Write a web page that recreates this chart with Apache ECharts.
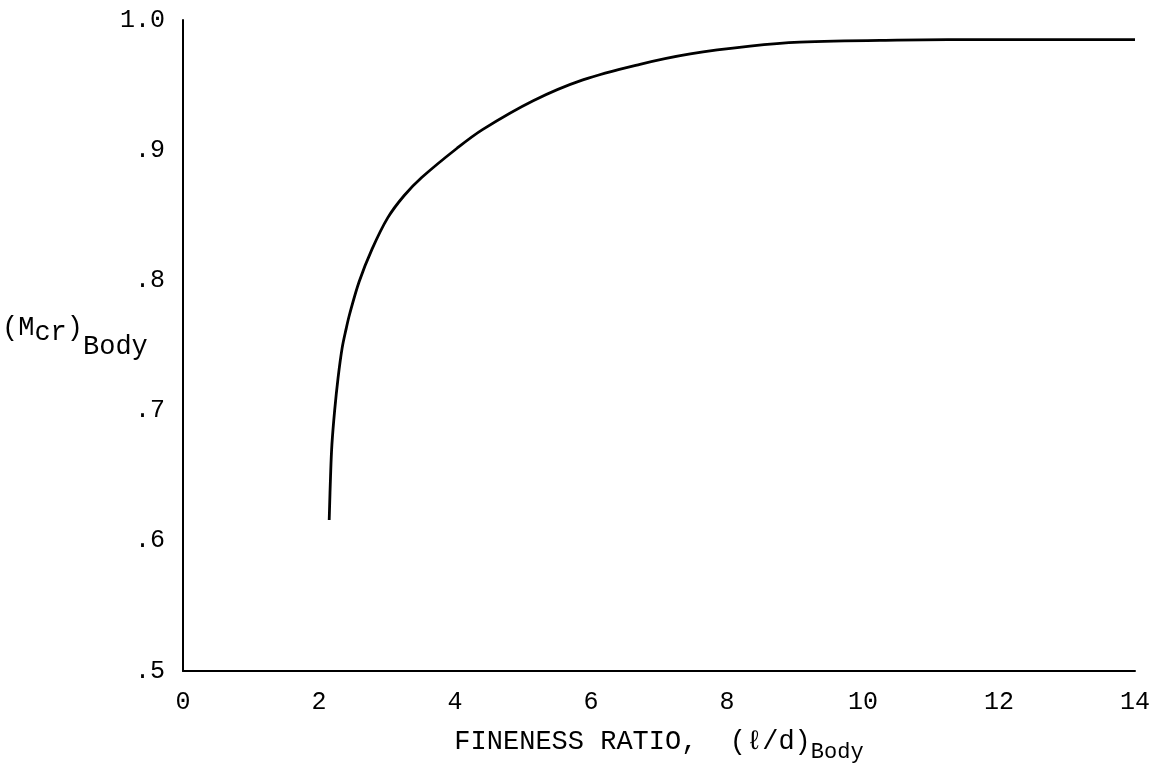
<!DOCTYPE html>
<html>
<head>
  <meta charset="utf-8">
  <title>Critical Mach number vs fineness ratio</title>
  <script src="https://cdn.jsdelivr.net/npm/echarts@6/dist/echarts.min.js"></script>
  <style>
    html, body { margin: 0; padding: 0; background: #fff; }
    #main { width: 1158px; height: 768px; }
  </style>
</head>
<body>
<div id="main"></div>
<script type="text/javascript">
  // data
  var finenessRatio = [2.15, 2.17, 2.19, 2.23, 2.28, 2.34, 2.40, 2.45, 2.59, 2.78, 3.01, 3.25, 3.51, 4.03, 4.41, 5.15, 5.88, 6.72, 7.46, 8.34, 9.07, 10.5, 12.0, 14.0];
  var machCritical = [0.616, 0.65, 0.674, 0.70, 0.725, 0.748, 0.763, 0.774, 0.799, 0.824, 0.848, 0.865, 0.879, 0.9015, 0.916, 0.938, 0.954, 0.966, 0.974, 0.980, 0.983, 0.9845, 0.985, 0.985];
  var yTickLabels = {'0.5': '.5', '0.6': '.6', '0.7': '.7', '0.8': '.8', '0.9': '.9', '1': '1.0'};

  var font = '"Liberation Mono", "DejaVu Sans Mono", monospace';
  var points = [];
  for (var i = 0; i < finenessRatio.length; i++) {
    points.push([finenessRatio[i], machCritical[i]]);
  }

  var myChart = echarts.init(document.getElementById('main'));
  var option = {
    backgroundColor: '#fff',
    animation: false,
    grid: { left: 183, right: 23, top: 20, bottom: 88 },
    xAxis: {
      type: 'value',
      min: 0, max: 14, interval: 2,
      axisLine: { lineStyle: { color: '#000', width: 2 } },
      axisTick: { show: false },
      splitLine: { show: false },
      axisLabel: { color: '#000', fontFamily: font, fontSize: 25, margin: 19 },
      name: '{t|FINENESS RATIO,  (ℓ/d)}{s|Body}',
      nameLocation: 'middle',
      nameGap: 57,
      nameTextStyle: {
        rich: {
          t: { fontFamily: font, fontSize: 27, color: '#000', lineHeight: 27, verticalAlign: 'top' },
          s: { fontFamily: font, fontSize: 22, color: '#000', lineHeight: 22, verticalAlign: 'top', padding: [13, 0, 0, 0] }
        }
      }
    },
    yAxis: {
      type: 'value',
      min: 0.5, max: 1.0, interval: 0.1,
      axisLine: { show: true, lineStyle: { color: '#000', width: 2 } },
      axisTick: { show: false },
      splitLine: { show: false },
      axisLabel: {
        color: '#000', fontFamily: font, fontSize: 25, margin: 18,
        formatter: function (v) { return yTickLabels[String(+v.toFixed(1))]; }
      }
    },
    graphic: [{
      type: 'text',
      left: 2,
      top: 314,
      style: {
        text: '{p|(M}{c|cr}{p|)}{b|Body}',
        rich: {
          p: { fontFamily: font, fontSize: 27, fill: '#000', lineHeight: 27, verticalAlign: 'top' },
          c: { fontFamily: font, fontSize: 27, fill: '#000', lineHeight: 27, verticalAlign: 'top', padding: [5, 0, 0, 0] },
          b: { fontFamily: font, fontSize: 27, fill: '#000', lineHeight: 27, verticalAlign: 'top', padding: [19, 0, 0, 0] }
        }
      }
    }],
    series: [{
      type: 'line',
      data: points,
      smooth: 0.35,
      symbol: 'none',
      lineStyle: { color: '#000', width: 2.8 }
    }]
  };
  myChart.setOption(option);
</script>
</body>
</html>
